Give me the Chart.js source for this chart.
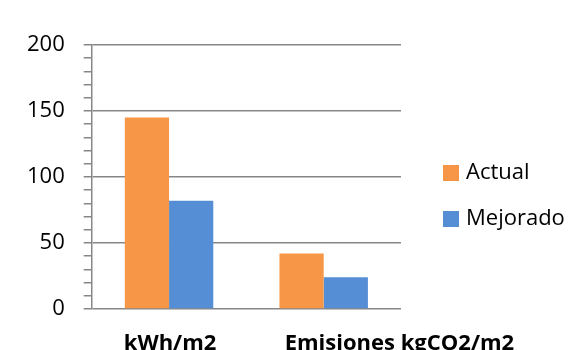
<!DOCTYPE html>
<html>
<head>
<meta charset="utf-8">
<script src="https://cdn.jsdelivr.net/npm/chart.js@4/dist/chart.umd.min.js"></script>
<style>
  html, body { margin: 0; padding: 0; background: #fff; }
  #wrap { width: 585px; height: 350px; position: relative; }
</style>
</head>
<body>
<div id="wrap"><canvas id="c"></canvas></div>
<script>
// Categories, series and axis settings
const categories = ['kWh/m2', 'Emisiones kgCO2/m2'];
const seriesNames = ['Actual', 'Mejorado'];
const actualValues = [145, 42];
const mejoradoValues = [82, 24];
const seriesColors = ['#F79646', '#558ED5'];
const yMin = 0;
const yMax = 200;
const yMajorStep = 50;
const yMinorStep = 10;

const FONT = '"Open Sans", "Liberation Sans", sans-serif';
const AXIS_GRAY = '#878787';

// Category labels drawn under the plot (the second one sits further right)
const categoryLabels = {
  id: 'categoryLabels',
  afterDraw(chart) {
    const { ctx } = chart;
    const x = chart.scales.x;
    ctx.save();
    ctx.font = 'bold 22px ' + FONT;
    ctx.fillStyle = '#000';
    ctx.textBaseline = 'alphabetic';
    categories.forEach((label, i) => {
      const cx = x.getPixelForTick(i);
      if (i === 0) {
        ctx.textAlign = 'center';
        ctx.fillText(label, cx + 1, chart.height);
      } else {
        ctx.textAlign = 'left';
        ctx.fillText(label, cx - 39, chart.height);
      }
    });
    ctx.restore();
  }
};

// Legend to the right of the plot: square swatch + label
const sideLegend = {
  id: 'sideLegend',
  afterDraw(chart) {
    const { ctx, chartArea } = chart;
    const boxX = chartArea.right + 42;
    const firstCenter = 173;
    const rowGap = 46;
    ctx.save();
    ctx.font = '22px ' + FONT;
    ctx.textBaseline = 'middle';
    ctx.textAlign = 'left';
    chart.data.datasets.forEach((ds, i) => {
      const cy = firstCenter + i * rowGap;
      ctx.fillStyle = ds.backgroundColor;
      ctx.fillRect(boxX, cy - 8, 16, 16);
      ctx.fillStyle = '#000';
      ctx.fillText(ds.label, boxX + 23, cy);
    });
    ctx.restore();
  }
};

new Chart(document.getElementById('c'), {
  type: 'bar',
  data: {
    labels: categories,
    datasets: [
      { label: seriesNames[0], data: actualValues, backgroundColor: seriesColors[0] },
      { label: seriesNames[1], data: mejoradoValues, backgroundColor: seriesColors[1] }
    ]
  },
  options: {
    responsive: true,
    maintainAspectRatio: false,
    animation: false,
    devicePixelRatio: 1,
    layout: { padding: { left: 8, right: 184, top: 45, bottom: 33 } },
    datasets: { bar: { categoryPercentage: 0.572, barPercentage: 1.0 } },
    plugins: {
      legend: { display: false },
      tooltip: { enabled: false }
    },
    scales: {
      x: {
        ticks: { display: false },
        grid: { display: false },
        border: { display: false }
      },
      y: {
        min: yMin,
        max: yMax,
        ticks: {
          stepSize: yMinorStep,
          autoSkip: false,
          padding: 19,
          color: '#000',
          font: { family: FONT, size: 22 },
          callback: (v) => (v % yMajorStep === 0 ? String(v) : '')
        },
        grid: {
          color: (c) => (c.tick && c.tick.value % yMajorStep === 0 ? AXIS_GRAY : 'rgba(0,0,0,0)'),
          tickColor: AXIS_GRAY,
          tickLength: 8,
          lineWidth: 1.5
        },
        border: { display: true, color: AXIS_GRAY, width: 1.5 }
      }
    }
  },
  plugins: [categoryLabels, sideLegend]
});
</script>
</body>
</html>
